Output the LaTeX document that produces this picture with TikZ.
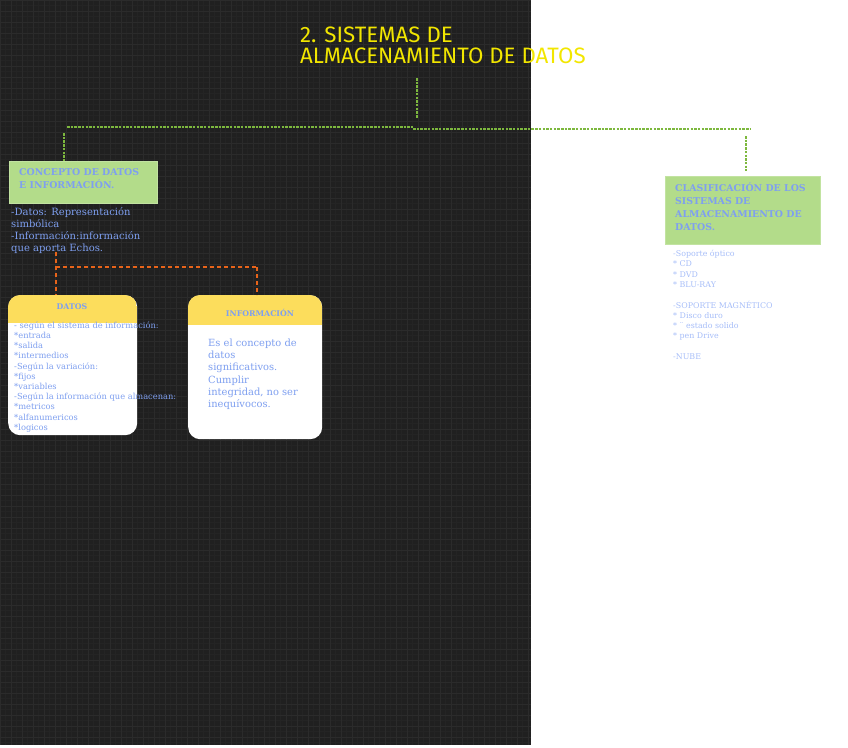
\documentclass[tikz,border=0pt]{standalone}
\usepackage{fontspec}
\setmainfont{DejaVu Serif}
\newfontfamily\titlefont{Fira Sans}
\definecolor{bgdark}{HTML}{202020}
\definecolor{gridline}{HTML}{2B2B2B}
\definecolor{gridfine}{HTML}{242424}
\definecolor{titleyellow}{HTML}{F2E600}
\definecolor{boxgreen}{HTML}{B3DC8A}
\definecolor{headyellow}{HTML}{FCDD5C}
\definecolor{textblue}{HTML}{7E9FF0}
\definecolor{lightblue}{HTML}{A6BDF8}
\definecolor{linkgreen}{HTML}{7DB83E}
\definecolor{linkorange}{HTML}{E8641A}
\tikzset{
  greenlink/.style={linkgreen, dash pattern=on 2.5pt off 1.2pt, line width=1.2pt},
  orangelink/.style={linkorange, dash pattern=on 4pt off 3pt, line width=1.3pt},
  greenbox/.style={fill=boxgreen, draw=boxgreen!80!white, anchor=north west, inner sep=0pt},
  cardbox/.style={fill=white, rounded corners=12pt, anchor=north west, inner sep=0pt},
  bodytext/.style={anchor=north west, inner sep=0pt, align=left, text=textblue},
  cardhead/.style={text=textblue, font=\bfseries\fontsize{7.8}{9}\selectfont, inner sep=0pt}
}
\begin{document}
\begin{tikzpicture}[x=1pt, y=-1pt]
        % --- Parameters ---
        \pgfmathsetmacro{\Wbg}{531}
        \pgfmathsetmacro{\Hbg}{745}
        \useasboundingbox (0,0) rectangle (848,747);
        % --- Dark grid background ---
        \fill[bgdark] (0,0) rectangle (\Wbg,\Hbg);
        \foreach \gx in {5.5,16.5,...,530} {
            \draw[gridfine, line width=0.4pt] (\gx,0) -- (\gx,\Hbg);
        }
        \foreach \gy in {5.5,16.5,...,744} {
            \draw[gridfine, line width=0.4pt] (0,\gy) -- (\Wbg,\gy);
        }
        \foreach \gx in {0,11,...,530} {
            \draw[gridline, line width=0.7pt] (\gx,0) -- (\gx,\Hbg);
        }
        \foreach \gy in {0,11,...,744} {
            \draw[gridline, line width=0.7pt] (0,\gy) -- (\Wbg,\gy);
        }

        % --- Title ---
        \node[anchor=north west, inner sep=0pt, align=left, text=titleyellow,
              font=\titlefont\fontsize{22.3}{21}\selectfont] (title) at (300,27)
            {2. SISTEMAS DE\\ALMACENAMIENTO DE DATOS};

        % --- Green boxes ---
        \node[greenbox, minimum width=148pt, minimum height=42pt] (concepto) at (9,161) {};
        \node[greenbox, minimum width=155pt, minimum height=68pt] (clasif) at (665,176) {};
        \node[bodytext, font=\bfseries\fontsize{9.4}{13}\selectfont] (conceptohead) at (19,168)
            {CONCEPTO DE DATOS\\E INFORMACIÓN.};
        \node[bodytext, font=\bfseries\fontsize{9.4}{12.7}\selectfont] (clasifhead) at (675,183)
            {CLASIFICACIÓN DE LOS\\SISTEMAS DE\\ALMACENAMIENTO DE\\DATOS.};

        % --- Text under the green boxes ---
        \node[bodytext, font=\fontsize{10}{12}\selectfont] (conceptotext) at (11,207.5)
            {-Datos: Representación\\simbólica\\-Información:información\\que aporta Echos.};
        \node[bodytext, text=lightblue, font=\fontsize{7.9}{10.3}\selectfont] (clasiftext) at (673,250)
            {-Soporte óptico\\* CD\\* DVD\\* BLU-RAY\\[10.3pt]-SOPORTE MAGNÉTICO\\* Disco duro\\* ¨ estado solido\\* pen Drive\\[10.3pt]-NUBE};

        % --- Cards with yellow header ---
        \node[cardbox, minimum width=129pt, minimum height=140pt] (datos) at (8,295) {};
        \node[cardbox, minimum width=134pt, minimum height=144pt] (info) at (188,295) {};
        \begin{scope}
            \clip[rounded corners=12pt] (8,295) rectangle (137,435);
            \fill[headyellow] (8,295) rectangle (137,323);
        \end{scope}
        \begin{scope}
            \clip[rounded corners=12pt] (188,295) rectangle (322,439);
            \fill[headyellow] (188,295) rectangle (322,325);
        \end{scope}
        \node[cardhead] (datoshead) at (72,307) {DATOS};
        \node[cardhead] (infohead) at (260,313) {INFORMACIÓN};
        \node[bodytext, font=\fontsize{8.3}{10.2}\selectfont] (datostext) at (14,321.5)
            {- según el sistema de información:\\*entrada\\*salida\\*intermedios\\-Según la variación:\\*fijos\\*variables\\-Según la información que almacenan:\\*metricos\\*alfanumericos\\*logicos};
        \node[bodytext, font=\fontsize{9.9}{12.3}\selectfont] (infotext) at (208,338.5)
            {Es el concepto de\\datos\\significativos.\\Cumplir\\integridad, no ser\\inequívocos.};

        % --- Green connectors ---
        \coordinate (tb) at (417,78);
        \coordinate (tj) at (417,118);
        \coordinate (hl) at (67,127);
        \coordinate (hm) at (413,127);
        \coordinate (hr) at (750,129);
        \draw[greenlink] (tb) -- (tj);
        \draw[greenlink] (hl) -- (hm);
        \draw[greenlink] (hm |- hr) -- (hr);
        \draw[greenlink] (64,133) -- (concepto.north -| 64,0);
        \draw[greenlink] (746,136) -- ([yshift=5pt]clasif.north -| 746,0);

        % --- Orange connectors ---
        \coordinate (ol) at (56,252);
        \coordinate (or) at (257,267);
        \draw[orangelink] (ol) -- (datos.north -| ol);
        \draw[orangelink] (ol |- or) -- (or);
        \draw[orangelink] (or) -- (info.north -| or);

\end{tikzpicture}
\end{document}
